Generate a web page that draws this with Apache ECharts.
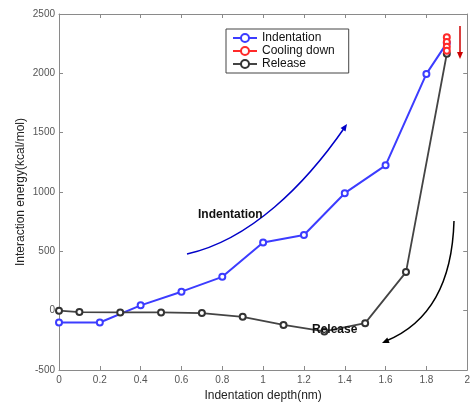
<!DOCTYPE html>
<html><head><meta charset="utf-8">
<script src="https://cdn.jsdelivr.net/npm/echarts@6/dist/echarts.min.js"></script>
<style>html,body{margin:0;padding:0;background:#fff}#c{width:473px;height:407px}</style>
</head><body><div id="c"></div>
<script>
var xTicks = [0,0.2,0.4,0.6,0.8,1,1.2,1.4,1.6,1.8,2];
var yTicks = [-500,0,500,1000,1500,2000,2500];
var indentX = [0,0.2,0.4,0.6,0.8,1.0,1.2,1.4,1.6,1.8,1.9];
var indentY = [-100,-100,45,160,285,575,638,990,1225,1995,2255];
var coolX = [1.9,1.9,1.9,1.9];
var coolY = [2305,2265,2225,2190];
var releaseX = [1.9,1.7,1.5,1.3,1.1,0.9,0.7,0.5,0.3,0.1,0];
var releaseY = [2165,325,-105,-175,-120,-52,-20,-15,-15,-12,0];

function pairs(xs, ys){ return xs.map(function(x,i){return [x, ys[i]];}); }

var chart = echarts.init(document.getElementById('c'), null, {renderer:'canvas'});
var axisCol = '#8a8a8a';
var lblStyle = {color:'#555', fontSize:10, fontFamily:'Liberation Sans'};
function arrowHead(x, y, dx, dy, len, w, col){
  var n = Math.sqrt(dx*dx+dy*dy); dx/=n; dy/=n;
  var px = -dy, py = dx;
  return {type:'polygon', z:100, shape:{points:[[x,y],[x-dx*len+px*w, y-dy*len+py*w],[x-dx*len-px*w, y-dy*len-py*w]]}, style:{fill:col}};
}
var option = {
  animation:false,
  backgroundColor:'#fff',
  grid:{left:59, right:5, top:14, bottom:37},
  legend:{
    left:226, top:29, orient:'vertical', itemGap:1, itemWidth:24, itemHeight:10,
    padding:[3,14,3,6], backgroundColor:'#fff', borderColor:'#444', borderWidth:1,
    textStyle:{color:'#111', fontSize:12, fontFamily:'Liberation Sans'},
    data:['Indentation','Cooling down','Release']
  },
  xAxis:[{
    type:'value', min:0, max:2, interval:0.2,
    name:'Indentation depth(nm)', nameLocation:'middle', nameGap:20, nameMoveOverlap:false,
    nameTextStyle:{color:'#222', fontSize:12, fontFamily:'Liberation Sans'},
    axisLine:{onZero:false, lineStyle:{color:axisCol}}, axisTick:{inside:true, length:4, lineStyle:{color:axisCol}},
    axisLabel:Object.assign({margin:5, formatter:function(v){return String(+v.toFixed(1));}}, lblStyle),
    splitLine:{show:false}
  },{
    type:'value', min:0, max:2, interval:0.2, position:'top',
    axisLine:{onZero:false, lineStyle:{color:axisCol}}, axisTick:{inside:true, length:4, lineStyle:{color:axisCol}},
    axisLabel:{show:false}, splitLine:{show:false}
  }],
  yAxis:[{
    type:'value', min:-500, max:2500, interval:500,
    name:'Interaction energy(kcal/mol)', nameLocation:'middle', nameGap:32, nameMoveOverlap:false,
    nameTextStyle:{color:'#222', fontSize:12, fontFamily:'Liberation Sans'},
    axisLine:{show:true, onZero:false, lineStyle:{color:axisCol}}, axisTick:{show:true, inside:true, length:4, lineStyle:{color:axisCol}},
    axisLabel:Object.assign({margin:4, formatter:function(v){return String(v);}}, lblStyle),
    splitLine:{show:false}
  },{
    type:'value', min:-500, max:2500, interval:500, position:'right',
    axisLine:{show:true, onZero:false, lineStyle:{color:axisCol}}, axisTick:{show:true, inside:true, length:4, lineStyle:{color:axisCol}},
    axisLabel:{show:false}, splitLine:{show:false}
  }],
  series:[
    {name:'Indentation', type:'line', data:pairs(indentX, indentY), symbol:'emptyCircle', symbolSize:6,
     lineStyle:{color:'#3c3cff', width:2}, itemStyle:{color:'#3c3cff', borderWidth:1.5}, z:3},
    {name:'Cooling down', type:'line', data:pairs(coolX, coolY), symbol:'emptyCircle', symbolSize:6,
     lineStyle:{color:'#ff2a2a', width:2}, itemStyle:{color:'#ff2a2a', borderWidth:1.5}, z:5},
    {name:'Release', type:'line', data:pairs(releaseX, releaseY), symbol:'emptyCircle', symbolSize:6,
     lineStyle:{color:'#444', width:1.8}, itemStyle:{color:'#333', borderWidth:1.5}, z:4}
  ],
  graphic:[
    {type:'bezierCurve', z:100, shape:{x1:187,y1:254,cpx1:250,cpy1:240,cpx2:305,cpy2:185,x2:345,y2:127}, style:{stroke:'#0000c8', lineWidth:1.5, fill:null}},
    arrowHead(347,124,40,-58,7,3,'#0000c8'),
    {type:'bezierCurve', z:100, shape:{x1:454,y1:221,cpx1:452,cpy1:290,cpx2:425,cpy2:325,x2:386,y2:341}, style:{stroke:'#000', lineWidth:1.5, fill:null}},
    arrowHead(382,343,-41,17,7,3,'#000'),
    {type:'line', z:100, shape:{x1:460,y1:26,x2:460,y2:53}, style:{stroke:'#cc0000', lineWidth:1.5}},
    arrowHead(460,59,0,1,7,3,'#cc0000'),
    {type:'text', z:100, left:198, top:209, style:{text:'Indentation', fill:'#111', font:'bold 12px "Liberation Sans"'}},
    {type:'text', z:100, left:312, top:324, style:{text:'Release', fill:'#111', font:'bold 12px "Liberation Sans"'}}
  ]
};
chart.setOption(option);
</script></body></html>
